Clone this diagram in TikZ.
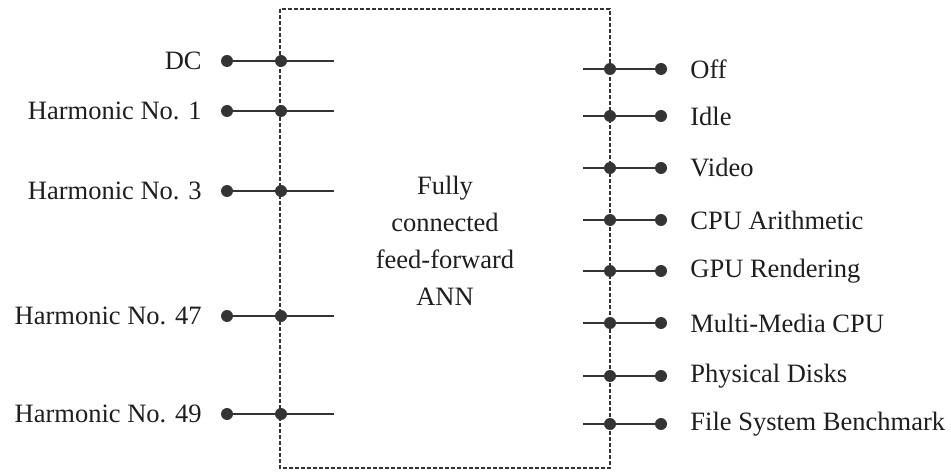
\documentclass[tikz,border=0pt]{standalone}
\usepackage{fontspec}
\setmainfont{Liberation Serif}
\usetikzlibrary{positioning}
\definecolor{ink}{RGB}{52, 52, 52}
\definecolor{txt}{RGB}{30, 30, 30}

\begin{document}
\begin{tikzpicture}[x=1pt, y=-1pt, font=\fontsize{26.5}{37}\selectfont, text=txt,
  dot/.style={circle, fill=ink, inner sep=0pt, minimum size=12pt},
  wire/.style={line width=2pt, color=ink},
  label/.style={inner sep=2pt}]
  \useasboundingbox (0, 0) rectangle (951, 473);
  \draw [dash pattern=on 4pt off 2pt, line width=1.6pt, color=ink] (280, 9) rectangle (610, 468);
  \node [align=center] (ann) at (445, 241) {Fully\\connected\\feed-forward\\ANN};

  % inputs
  \foreach \y/\name [count=\i] in {61/DC, 111/Harmonic No. 1, 191/Harmonic No. 3, 316/Harmonic No. 47, 414/Harmonic No. 49} {
    \node [dot] (inA\i) at (227, \y) {};
    \node [dot] (inB\i) at (281, \y) {};
    \coordinate (inC\i) at (334, \y);
    \node [label, left=17pt of inA\i] (inL\i) {\name};
    \draw [wire] (inA\i) -- (inB\i) -- (inC\i);
  }

  % outputs
  \foreach \y/\name [count=\i] in {69/Off, 116/Idle, 168/Video, 220/CPU Arithmetic, 271/GPU Rendering, 323/Multi-Media CPU, 376/Physical Disks, 424/File System Benchmark} {
    \coordinate (outC\i) at (583, \y);
    \node [dot] (outB\i) at (610, \y) {};
    \node [dot] (outA\i) at (661, \y) {};
    \node [label, right=21pt of outA\i] (outL\i) {\name};
    \draw [wire] (outC\i) -- (outB\i) -- (outA\i);
  }
\end{tikzpicture}
\end{document}
